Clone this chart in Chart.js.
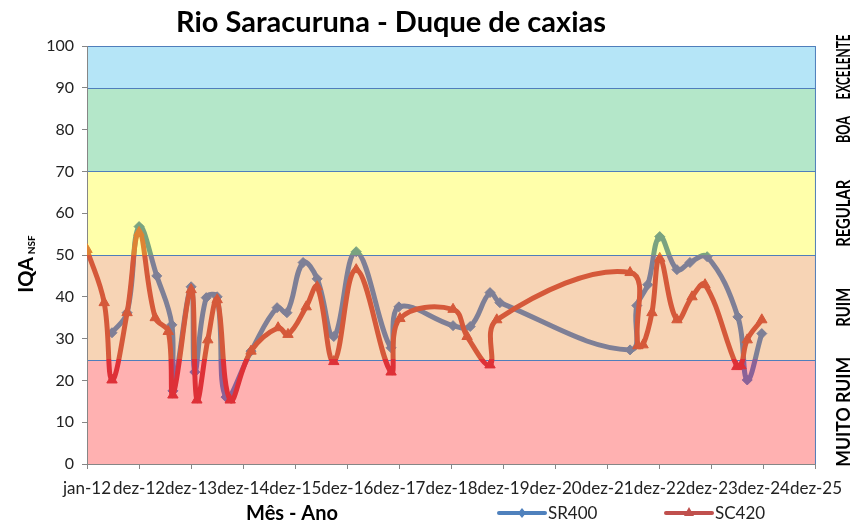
<!DOCTYPE html>
<html lang="pt">
<head>
    <meta charset="UTF-8">
    <title>Rio Saracuruna - Duque de caxias</title>
    <script src="https://cdn.jsdelivr.net/npm/chart.js"></script>
    <style>
        body { margin: 0; background: #fff; }
        canvas { display: block; }
    </style>
</head>
<body>
    <canvas id="chart" width="851" height="525"></canvas>
    <script>
        // x values are in axis steps: 0 = jan-12, 1 = dez-12, 2 = dez-13 ...
        const xLabels = ['jan-12', 'dez-12', 'dez-13', 'dez-14', 'dez-15', 'dez-16', 'dez-17', 'dez-18',
            'dez-19', 'dez-20', 'dez-21', 'dez-22', 'dez-23', 'dez-24', 'dez-25'];

        const sr400X = [0.48, 0.77, 1.00, 1.34, 1.63, 1.65, 2.00, 2.07, 2.29, 2.50, 2.67, 3.15, 3.65, 3.84,
            4.15, 4.42, 4.74, 5.17, 5.84, 5.99, 7.03, 7.36, 7.74, 7.93, 10.43, 10.56, 10.77, 11.00, 11.33,
            11.58, 11.91, 12.50, 12.68, 12.96];
        const sr400Y = [31.4, 36.2, 56.8, 45.0, 33.3, 17.5, 42.4, 22.0, 39.8, 40.0, 16.0, 27.0, 37.4, 36.2,
            48.2, 44.3, 30.5, 50.8, 27.8, 37.6, 33.1, 32.9, 41.0, 38.6, 27.3, 37.9, 42.9, 54.4, 46.5,
            48.2, 49.6, 35.2, 20.1, 31.2];

        const sc420X = [0.00, 0.33, 0.48, 0.77, 1.00, 1.31, 1.56, 1.65, 2.00, 2.11, 2.32, 2.50, 2.75, 3.15,
            3.67, 3.86, 4.21, 4.42, 4.74, 5.17, 5.84, 6.01, 7.03, 7.30, 7.74, 7.87, 10.43, 10.58, 10.68,
            10.85, 11.00, 11.33, 11.62, 11.87, 12.48, 12.56, 12.68, 12.96];
        const sc420Y = [51.3, 38.6, 20.1, 36.2, 55.4, 35.0, 31.7, 16.5, 41.7, 15.3, 29.7, 39.3, 15.3, 27.0,
            32.6, 31.0, 37.6, 42.4, 24.5, 46.5, 22.0, 34.8, 37.0, 30.5, 23.7, 34.5, 45.8, 28.3, 28.5,
            36.2, 49.2, 34.5, 40.0, 42.9, 23.3, 23.5, 29.7, 34.5];

        // IQA classes
        const bandNames = ['MUITO RUIM', 'RUIM', 'REGULAR', 'BOA', 'EXCELENTE'];
        const bandFrom = [0, 25, 50, 70, 90];
        const bandTo = [25, 50, 70, 90, 100];
        const bandColors = ['#ffb1b1', '#f7d4b5', '#ffffaa', '#b4e7c9', '#b5e5f7'];
        const bandLabelLen = [110, 39, 67, 27, 65];

        // line tint in each class (<25, 25-50, >50), the lines look see-through in the original
        const srTints = ['rgb(138,98,152)', 'rgb(126,127,150)', 'rgb(122,163,128)'];
        const scTints = ['rgb(222,48,55)', 'rgb(213,89,58)', 'rgb(222,132,52)'];

        const font = 'Lato, "Open Sans", sans-serif';

        const pts = (xs, ys) => xs.map((x, i) => ({ x: x, y: ys[i] }));

        const tint = (colors, fallback) => (c) => {
            const chart = c.chart;
            if (!chart.chartArea) return fallback;
            const y = chart.scales.y;
            const g = chart.ctx.createLinearGradient(0, y.getPixelForValue(0), 0, y.getPixelForValue(100));
            g.addColorStop(0, colors[0]);
            g.addColorStop(0.25, colors[0]);
            g.addColorStop(0.25, colors[1]);
            g.addColorStop(0.5, colors[1]);
            g.addColorStop(0.5, colors[2]);
            g.addColorStop(1, colors[2]);
            return g;
        };

        const bands = {
            id: 'bands',
            beforeDraw(chart) {
                const { ctx, chartArea: a, scales: { y } } = chart;
                ctx.save();
                bandFrom.forEach((from, i) => {
                    const top = Math.round(y.getPixelForValue(bandTo[i])) + 0.5;
                    const bot = Math.round(y.getPixelForValue(from)) + 0.5;
                    ctx.fillStyle = bandColors[i];
                    ctx.fillRect(a.left, top, a.right - a.left, bot - top);
                    ctx.strokeStyle = '#4f7ebb';
                    ctx.lineWidth = 1;
                    ctx.strokeRect(a.left + 0.5, top, a.right - a.left - 1, bot - top);
                });
                ctx.restore();
            },
            afterDraw(chart) {
                const { ctx, scales: { y } } = chart;
                ctx.save();
                ctx.fillStyle = '#000';

                // title
                ctx.font = 'bold 29px ' + font;
                ctx.textAlign = 'center';
                ctx.textBaseline = 'middle';
                ctx.fillText('Rio Saracuruna - Duque de caxias', 391, 23);

                // class labels on the right
                ctx.font = 'bold 18px ' + font;
                bandNames.forEach((name, i) => {
                    const cy = y.getPixelForValue((bandFrom[i] + bandTo[i]) / 2);
                    ctx.save();
                    ctx.translate(844, cy);
                    ctx.rotate(-Math.PI / 2);
                    ctx.fillText(name, 0, 0, bandLabelLen[i]);
                    ctx.restore();
                });

                // y title: IQA with NSF subscript
                ctx.save();
                ctx.translate(27, 264);
                ctx.rotate(-Math.PI / 2);
                ctx.font = 'bold 20px ' + font;
                const w1 = ctx.measureText('IQA').width;
                ctx.font = 'bold 10px ' + font;
                const w2 = ctx.measureText('NSF').width;
                const start = -(w1 + 3 + w2) / 2;
                ctx.textAlign = 'left';
                ctx.font = 'bold 20px ' + font;
                ctx.fillText('IQA', start, 0);
                ctx.font = 'bold 10px ' + font;
                ctx.fillText('NSF', start + w1 + 3, 5);
                ctx.restore();

                // x title
                ctx.font = 'bold 20px ' + font;
                ctx.textAlign = 'center';
                ctx.fillText('Mês - Ano', 292, 514);

                // legend
                const items = [
                    { x: 499, label: 'SR400', color: '#4f81bd', style: 'diamond' },
                    { x: 666, label: 'SC420', color: '#c0504d', style: 'triangle' }
                ];
                items.forEach(it => {
                    const ly = 513;
                    ctx.strokeStyle = it.color;
                    ctx.fillStyle = it.color;
                    ctx.lineWidth = 4;
                    ctx.lineCap = 'round';
                    ctx.beginPath();
                    ctx.moveTo(it.x, ly);
                    ctx.lineTo(it.x + 46, ly);
                    ctx.stroke();
                    const cx = it.x + 23;
                    ctx.beginPath();
                    if (it.style === 'diamond') {
                        ctx.moveTo(cx, ly - 5); ctx.lineTo(cx + 4, ly); ctx.lineTo(cx, ly + 5); ctx.lineTo(cx - 4, ly);
                    } else {
                        ctx.moveTo(cx, ly - 6); ctx.lineTo(cx + 5, ly + 3); ctx.lineTo(cx - 5, ly + 3);
                    }
                    ctx.closePath();
                    ctx.fill();
                    ctx.fillStyle = '#222';
                    ctx.font = '17px ' + font;
                    ctx.textAlign = 'left';
                    ctx.fillText(it.label, it.x + 49, ly + 1);
                });
                ctx.restore();
            }
        };

        new Chart(document.getElementById('chart'), {
            type: 'line',
            data: {
                datasets: [
                    {
                        label: 'SR400',
                        order: 1,
                        data: pts(sr400X, sr400Y),
                        borderColor: tint(srTints, srTints[1]),
                        backgroundColor: tint(srTints, srTints[1]),
                        pointBorderColor: tint(srTints, srTints[1]),
                        borderWidth: 5,
                        tension: 0.4,
                        pointStyle: 'rectRot',
                        pointRadius: 5,
                        pointBorderWidth: 1
                    },
                    {
                        label: 'SC420',
                        order: 0,
                        data: pts(sc420X, sc420Y),
                        borderColor: tint(scTints, scTints[1]),
                        backgroundColor: tint(scTints, scTints[1]),
                        pointBorderColor: tint(scTints, scTints[1]),
                        borderWidth: 5,
                        tension: 0.4,
                        pointStyle: 'triangle',
                        pointRadius: 6,
                        pointBorderWidth: 1
                    }
                ]
            },
            options: {
                responsive: false,
                animation: false,
                devicePixelRatio: 1,
                layout: { padding: { left: 0, right: 34, top: 46, bottom: 0 } },
                plugins: {
                    legend: { display: false },
                    title: { display: false },
                    tooltip: { enabled: false }
                },
                scales: {
                    x: {
                        type: 'linear',
                        min: 0,
                        max: 14,
                        afterFit: s => { s.height = 61; },
                        afterBuildTicks: s => { s.ticks = xLabels.map((l, i) => ({ value: i })); },
                        ticks: {
                            autoSkip: false,
                            maxRotation: 0,
                            padding: 9,
                            color: '#222',
                            font: { family: font, size: 17 },
                            callback: v => xLabels[v]
                        },
                        grid: { drawOnChartArea: false, tickLength: 5, color: '#868686' },
                        border: { color: '#868686' }
                    },
                    y: {
                        min: 0,
                        max: 100,
                        afterFit: s => { s.width = 87; },
                        ticks: {
                            stepSize: 10,
                            padding: 8,
                            color: '#222',
                            font: { family: font, size: 16 }
                        },
                        grid: { drawOnChartArea: false, tickLength: 5, color: '#868686' },
                        border: { color: '#868686' }
                    }
                }
            },
            plugins: [bands]
        });
    </script>
</body>
</html>
